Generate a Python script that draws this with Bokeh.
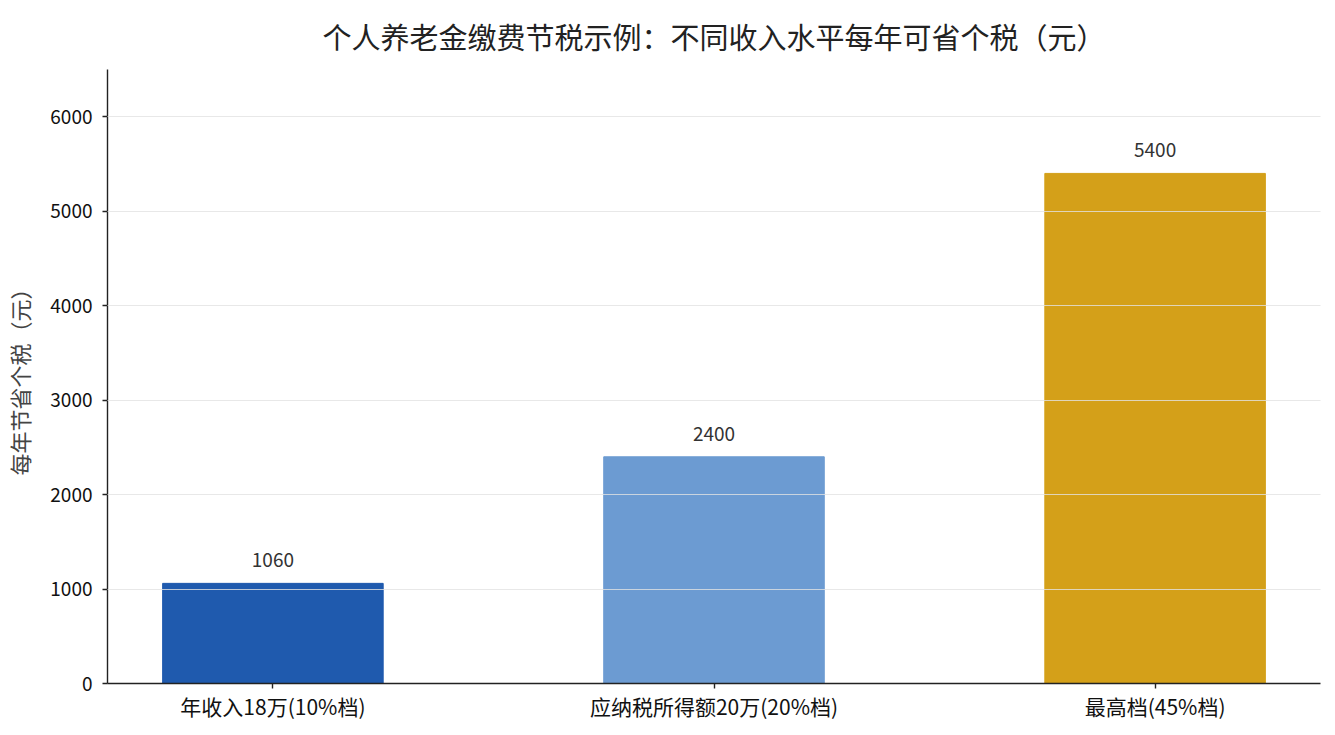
from bokeh.plotting import figure
from bokeh.models import ColumnDataSource, FixedTicker, Range1d
from bokeh.core.properties import value
from bokeh.embed import file_html
from bokeh.resources import INLINE

title_text = "个人养老金缴费节税示例：不同收入水平每年可省个税（元）"
categories = ["年收入18万(10%档)", "应纳税所得额20万(20%档)", "最高档(45%档)"]
savings = [1060, 2400, 5400]
colors = ["#1F5AAE", "#6C9BD2", "#D4A019"]
y_ticks = [0, 1000, 2000, 3000, 4000, 5000, 6000]

FONT = "Noto Sans CJK SC"

xs = list(range(len(categories)))
src = ColumnDataSource(dict(x=xs, top=savings, color=colors,
                            label=[str(v) for v in savings]))

p = figure(width=1327, height=727, output_backend="svg", toolbar_location=None,
           x_range=Range1d(-0.375, 2.375), y_range=Range1d(0, 6500),
           min_border_left=107, min_border_right=7, min_border_top=68,
           min_border_bottom=44)

p.title.text = title_text
p.title.align = "center"
p.title.text_font = FONT
p.title.text_font_size = "29px"
p.title.text_font_style = "normal"
p.title.text_color = "#222222"
p.title.text_line_height = 0.8
p.title.standoff = 25

p.vbar(x="x", top="top", width=0.5, bottom=0, color="color", source=src)

p.text(x="x", y="top", text="label", source=src, text_align="center",
       text_baseline="middle", y_offset=-23, text_font=value(FONT),
       text_font_size="19px", text_color="#333333")

p.outline_line_color = None
p.background_fill_color = "white"
p.border_fill_color = "white"

p.xgrid.visible = False
p.ygrid.ticker = FixedTicker(ticks=y_ticks)
p.ygrid.grid_line_color = "#e2e2e2"
p.ygrid.grid_line_alpha = 0.8
p.ygrid.grid_line_width = 1
p.ygrid.level = "overlay"

p.xaxis.ticker = FixedTicker(ticks=xs)
p.xaxis.major_label_overrides = {i: c for i, c in zip(xs, categories)}
p.yaxis.ticker = FixedTicker(ticks=y_ticks)

for ax in (p.xaxis[0], p.yaxis[0]):
    ax.axis_line_color = "#222222"
    ax.axis_line_width = 1.4
    ax.major_tick_line_color = "#222222"
    ax.major_tick_line_width = 1.4
    ax.major_tick_in = 0
    ax.major_tick_out = 5
    ax.minor_tick_line_color = None
    ax.major_label_text_font = FONT
    ax.major_label_text_color = "#111111"

p.xaxis.major_label_text_font_size = "21px"
p.yaxis.major_label_text_font_size = "19px"
p.xaxis.major_label_standoff = 2
p.yaxis.major_label_standoff = 10

p.yaxis.axis_label = "每年节省个税（元）"
p.yaxis.axis_label_text_font = FONT
p.yaxis.axis_label_text_font_size = "22px"
p.yaxis.axis_label_text_font_style = "normal"
p.yaxis.axis_label_text_color = "#444444"
p.yaxis.axis_label_standoff = 12

open("out.html", "w").write(file_html(p, INLINE))
